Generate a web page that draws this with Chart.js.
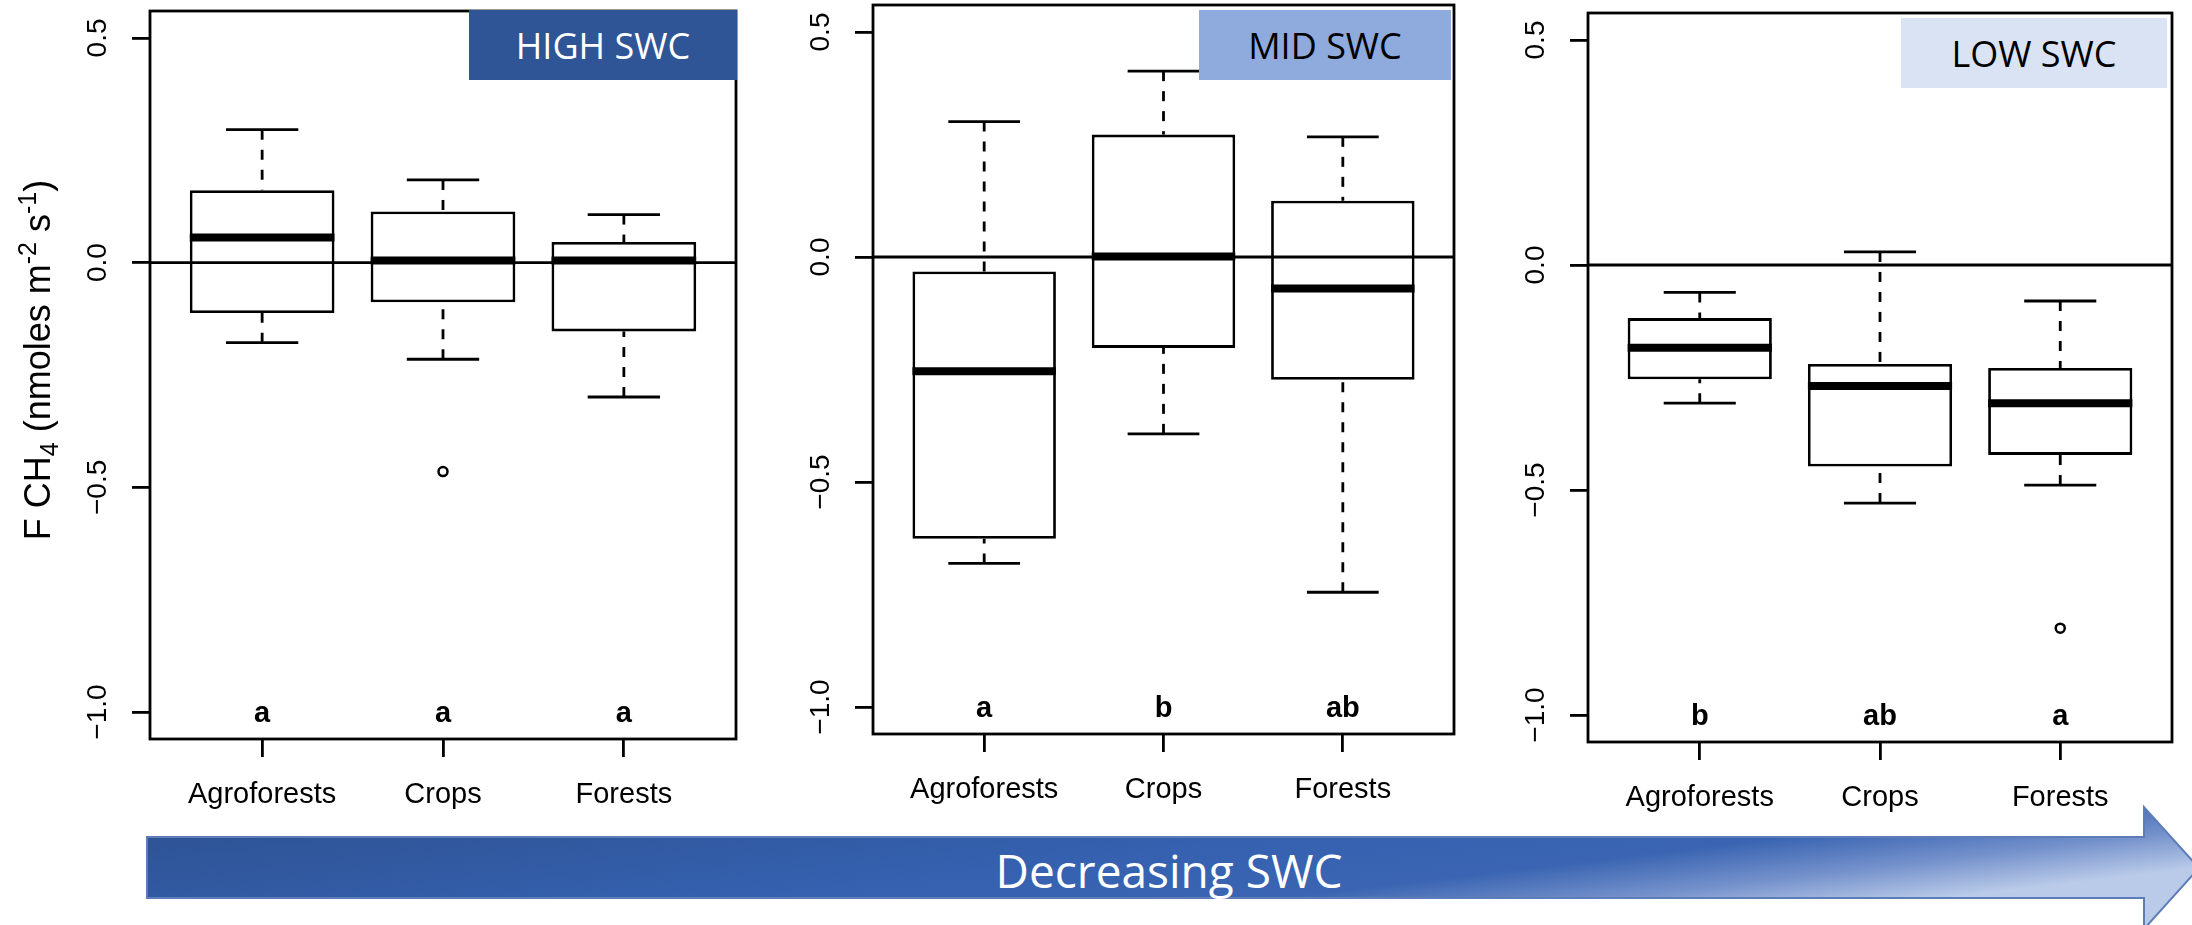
<!DOCTYPE html>
<html lang="en">
<head>
<meta charset="UTF-8">
<title>F CH4 by land use along a SWC gradient</title>
<script src="https://cdn.jsdelivr.net/npm/chart.js"></script>
<style>
  html, body { margin: 0; padding: 0; background: #fff; }
  .stage { position: relative; width: 2192px; height: 925px; overflow: hidden; background: #fff; }
  .stage canvas { position: absolute; top: 0; }
  #arrow { position: absolute; left: 0; top: 0; }
  .tag {
    position: absolute; display: flex; align-items: center; justify-content: center;
    font-family: 'Open Sans', sans-serif; font-size: 36px;
  }
</style>
</head>
<body>
<div class="stage">
  <svg id="arrow" width="2192" height="925">
    <defs>
      <!-- lightens toward the lower right, like the office-style arrow -->
      <linearGradient id="arrowFill" x1="0" y1="0" x2="1" y2="0.5">
        <stop offset="0" stop-color="#2D5190"/>
        <stop offset="0.55" stop-color="#3561B0"/>
        <stop offset="0.74" stop-color="#3B65B2"/>
        <stop offset="0.87" stop-color="#7390CB"/>
        <stop offset="1" stop-color="#BACBE9"/>
      </linearGradient>
    </defs>
    <polygon points="147,837 2144,837 2144,807 2199,868 2144,929 2144,898 147,898"
             fill="url(#arrowFill)" stroke="#5D7DB9" stroke-width="2"/>
    <text x="1169" y="888" text-anchor="middle" font-family="Open Sans" font-size="46" fill="#fff">Decreasing SWC</text>
  </svg>

  <canvas id="cHigh" width="760" height="925" style="left:0px"></canvas>
  <canvas id="cMid" width="720" height="925" style="left:760px"></canvas>
  <canvas id="cLow" width="712" height="925" style="left:1480px"></canvas>

  <div class="tag" style="left:469px;top:10px;width:268px;height:70px;background:#2F5597;color:#fff">HIGH SWC</div>
  <div class="tag" style="left:1199px;top:10px;width:252px;height:70px;background:#8FAADC;color:#000">MID SWC</div>
  <div class="tag" style="left:1901px;top:18px;width:266px;height:70px;background:#DAE3F3;color:#000">LOW SWC</div>
</div>

<script>
// categories and axis ticks
const groups = ['Agroforests', 'Crops', 'Forests'];
const xTicks = [1, 2, 3];
const yTicks = [-1, -0.5, 0, 0.5];
const yTickLabels = ['\u22121.0', '\u22120.5', '0.0', '0.5'];

// HIGH SWC
const highLo  = [-0.178, -0.215, -0.299];
const highQ1  = [-0.112, -0.088, -0.153];
const highMed = [0.056, 0.005, 0.005];
const highQ3  = [0.161, 0.114, 0.046];
const highHi  = [0.296, 0.184, 0.107];
const highOut = [null, -0.465, null];
const highLetters = ['a', 'a', 'a'];

// MID SWC
const midLo  = [-0.681, -0.393, -0.745];
const midQ1  = [-0.626, -0.202, -0.273];
const midMed = [-0.254, 0.001, -0.070];
const midQ3  = [-0.032, 0.272, 0.125];
const midHi  = [0.301, 0.413, 0.267];
const midOut = [null, null, null];
const midLetters = ['a', 'b', 'ab'];

// LOW SWC
const lowLo  = [-0.307, -0.529, -0.489];
const lowQ1  = [-0.254, -0.448, -0.422];
const lowMed = [-0.184, -0.269, -0.307];
const lowQ3  = [-0.118, -0.220, -0.229];
const lowHi  = [-0.061, 0.029, -0.080];
const lowOut = [null, null, -0.807];
const lowLetters = ['b', 'ab', 'a'];

const SANS = '"Liberation Sans", Arial, Helvetica, sans-serif';
const LW = 2.8;

function drawTitle(ctx, cx, cy) {
  // y-axis title with sub/superscripts, rotated to read bottom-up
  const parts = [
    { t: 'F CH', s: 36, dy: 0 },
    { t: '4', s: 25, dy: 8 },
    { t: ' (nmoles m', s: 36, dy: 0 },
    { t: '-2', s: 25, dy: -14 },
    { t: ' s', s: 36, dy: 0 },
    { t: '-1', s: 25, dy: -14 },
    { t: ')', s: 36, dy: 0 }
  ];
  let total = 0;
  parts.forEach(p => { ctx.font = p.s + 'px ' + SANS; p.w = ctx.measureText(p.t).width; total += p.w; });
  ctx.save();
  ctx.translate(cx, cy);
  ctx.rotate(-Math.PI / 2);
  ctx.textAlign = 'left';
  ctx.textBaseline = 'alphabetic';
  let px = -total / 2;
  parts.forEach(p => {
    ctx.font = p.s + 'px ' + SANS;
    ctx.fillText(p.t, px, p.dy);
    px += p.w;
  });
  ctx.restore();
}

function boxExtras(d, withTitle) {
  return {
    id: 'boxExtras',
    afterDraw(chart) {
      const { ctx, chartArea: a, scales: { x, y } } = chart;
      const bars = chart.getDatasetMeta(0).data;
      const seg = (x1, y1, x2, y2) => { ctx.beginPath(); ctx.moveTo(x1, y1); ctx.lineTo(x2, y2); ctx.stroke(); };
      ctx.save();
      ctx.strokeStyle = '#000';
      ctx.fillStyle = '#000';
      ctx.lineCap = 'butt';

      d.med.forEach((m, i) => {
        const cx = x.getPixelForValue(xTicks[i]);
        const capL = x.getPixelForValue(xTicks[i] - 0.2);
        const capR = x.getPixelForValue(xTicks[i] + 0.2);
        const yHi = y.getPixelForValue(d.hi[i]);
        const yLo = y.getPixelForValue(d.lo[i]);
        ctx.lineWidth = LW;
        ctx.setLineDash([10, 10]);
        seg(cx, yHi, cx, y.getPixelForValue(d.q3[i]));
        seg(cx, yLo, cx, y.getPixelForValue(d.q1[i]));
        ctx.setLineDash([]);
        seg(capL, yHi, capR, yHi);
        seg(capL, yLo, capR, yLo);
        // median
        const b = bars[i];
        const ym = y.getPixelForValue(m);
        ctx.lineWidth = 8;
        seg(b.x - b.width / 2, ym, b.x + b.width / 2, ym);
      });

      // zero line
      ctx.lineWidth = LW;
      const y0 = y.getPixelForValue(0);
      seg(a.left, y0, a.right, y0);

      // plot frame
      ctx.strokeRect(a.left, a.top, a.right - a.left, a.bottom - a.top);

      // group letters
      ctx.font = 'bold 29px ' + SANS;
      ctx.textAlign = 'center';
      ctx.textBaseline = 'alphabetic';
      d.letters.forEach((l, i) => {
        ctx.fillText(l, x.getPixelForValue(xTicks[i]), y.getPixelForValue(-1) + 10);
      });

      // rotated y tick labels
      ctx.font = '28px ' + SANS;
      ctx.textBaseline = 'middle';
      yTicks.forEach((v, i) => {
        ctx.save();
        ctx.translate(a.left - 52, y.getPixelForValue(v));
        ctx.rotate(-Math.PI / 2);
        ctx.fillText(yTickLabels[i], 0, 0);
        ctx.restore();
      });

      if (withTitle) drawTitle(ctx, a.left - 100, 360);
      ctx.restore();
    }
  };
}

function makePanel(id, d, pad, withTitle) {
  const ctx = document.getElementById(id).getContext('2d');
  const axisGrid = { drawOnChartArea: false, drawTicks: true, tickLength: 18, color: '#000', lineWidth: LW, offset: false };
  return new Chart(ctx, {
    type: 'bar',
    data: {
      datasets: [
        {
          data: groups.map((g, i) => ({ x: xTicks[i], y: [d.q1[i], d.q3[i]] })),
          backgroundColor: '#fff',
          borderColor: '#000',
          borderWidth: LW,
          borderSkipped: false,
          categoryPercentage: 1,
          barPercentage: 0.8
        },
        {
          type: 'scatter',
          data: d.out.map((v, i) => v === null ? null : { x: xTicks[i], y: v }).filter(p => p),
          backgroundColor: '#fff',
          borderColor: '#000',
          borderWidth: 2.5,
          pointRadius: 4.5
        }
      ]
    },
    options: {
      responsive: false,
      animation: false,
      events: [],
      layout: { padding: pad },
      plugins: { legend: { display: false }, tooltip: { enabled: false } },
      scales: {
        x: {
          type: 'linear',
          min: 0.38, max: 3.62,
          offset: false,
          afterBuildTicks: s => { s.ticks = xTicks.map(v => ({ value: v })); },
          afterFit: s => { s.height = 80; },
          grid: axisGrid,
          border: { display: false },
          ticks: {
            callback: v => groups[xTicks.indexOf(v)],
            color: '#000',
            font: { family: SANS, size: 29 },
            padding: 21,
            maxRotation: 0,
            autoSkip: false
          }
        },
        y: {
          type: 'linear',
          min: -1.06, max: 0.56,
          afterBuildTicks: s => { s.ticks = yTicks.map(v => ({ value: v })); },
          afterFit: s => { s.width = 18; },
          grid: axisGrid,
          border: { display: false },
          ticks: { display: false }
        }
      }
    },
    plugins: [boxExtras(d, withTitle)]
  });
}

makePanel('cHigh',
  { lo: highLo, q1: highQ1, med: highMed, q3: highQ3, hi: highHi, out: highOut, letters: highLetters },
  { left: 132, right: 24, top: 11, bottom: 106 }, true);
makePanel('cMid',
  { lo: midLo, q1: midQ1, med: midMed, q3: midQ3, hi: midHi, out: midOut, letters: midLetters },
  { left: 95, right: 26, top: 5, bottom: 111 }, false);
makePanel('cLow',
  { lo: lowLo, q1: lowQ1, med: lowMed, q3: lowQ3, hi: lowHi, out: lowOut, letters: lowLetters },
  { left: 90, right: 20, top: 13, bottom: 103 }, false);
</script>
</body>
</html>
